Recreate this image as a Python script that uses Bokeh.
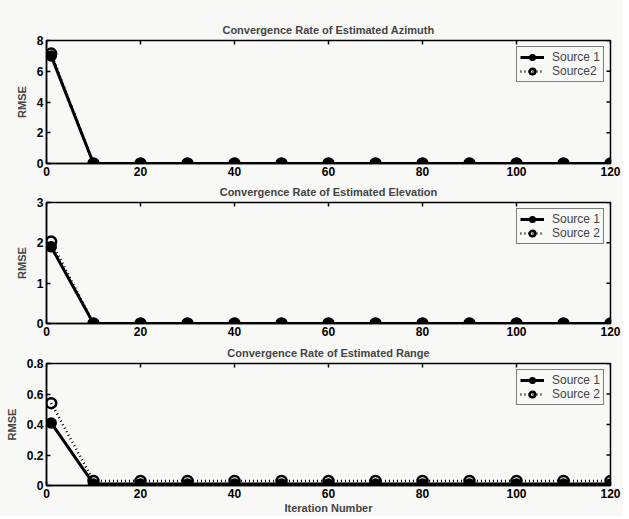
import math
from bokeh.plotting import figure
from bokeh.layouts import column
from bokeh.models import Legend, LegendItem, Range1d, FixedTicker
from bokeh.embed import file_html
from bokeh.resources import INLINE

iters = [1, 10, 20, 30, 40, 50, 60, 70, 80, 90, 100, 110, 120]
az_s1 = [7.0, 0, 0, 0, 0, 0, 0, 0, 0, 0, 0, 0, 0]
az_s2 = [7.15, 0, 0, 0, 0, 0, 0, 0, 0, 0, 0, 0, 0]
el_s1 = [1.9, 0, 0, 0, 0, 0, 0, 0, 0, 0, 0, 0, 0]
el_s2 = [2.03, 0, 0, 0, 0, 0, 0, 0, 0, 0, 0, 0, 0]
rg_s1 = [0.41, 0.01, 0.01, 0.01, 0.01, 0.01, 0.01, 0.01, 0.01, 0.01, 0.01, 0.01, 0.01]
rg_s2 = [0.54, 0.03, 0.03, 0.03, 0.03, 0.03, 0.03, 0.03, 0.03, 0.03, 0.03, 0.03, 0.03]

x_ticks = [0, 20, 40, 60, 80, 100, 120]
az_ticks = [0, 2, 4, 6, 8]
el_ticks = [0, 1, 2, 3]
rg_ticks = [0, 0.2, 0.4, 0.6, 0.8]

titles = ["Convergence Rate of Estimated Azimuth",
          "Convergence Rate of Estimated Elevation",
          "Convergence Rate of Estimated Range"]
s2_labels = ["Source2", "Source 2", "Source 2"]

FONT = "Liberation Sans"
BG = "#f8f8f6"


def make_panel(title, s1, s2, ymax, yticks, s2_label, frame_h, top, bottom, xlabel=None):
    p = figure(frame_width=564, frame_height=frame_h, output_backend="svg",
               toolbar_location=None, x_range=Range1d(0, 120), y_range=Range1d(0, ymax),
               min_border_left=46, min_border_right=13, min_border_top=top,
               min_border_bottom=bottom, background_fill_color=BG, border_fill_color=BG,
               outline_line_color="black", outline_line_width=1.5)
    p.title.text = title
    p.title.align = "center"
    p.title.text_font = FONT
    p.title.text_font_size = "11px"
    p.title.text_font_style = "bold"
    p.title.standoff = 9
    p.xgrid.visible = False
    p.ygrid.visible = False

    for ax in p.xaxis:
        ax.ticker = FixedTicker(ticks=x_ticks)
    for ax in p.yaxis:
        ax.ticker = FixedTicker(ticks=yticks)
        ax.axis_label = "RMSE"
    for ax in list(p.xaxis) + list(p.yaxis):
        ax.major_tick_in = 4
        ax.major_tick_out = 0
        ax.minor_tick_line_color = None
        ax.axis_line_color = "black"
        ax.axis_line_width = 1.5
        ax.major_tick_line_width = 1.5
        ax.major_label_text_font = FONT
        ax.major_label_text_font_size = "12px"
        ax.major_label_text_font_style = "bold"
        ax.major_label_text_color = "black"
        ax.major_label_standoff = 3
        ax.axis_label_text_font = FONT
        ax.axis_label_text_font_size = "11px"
        ax.axis_label_text_font_style = "bold"
        ax.axis_label_standoff = 6
    if xlabel:
        p.xaxis.axis_label = xlabel
        p.xaxis.axis_label_standoff = 1

    # box ticks on the top and right edges (clipped to the frame, so only the inner half shows)
    p.scatter(x_ticks, [ymax] * len(x_ticks), marker="dash", angle=math.pi / 2, size=8,
              line_color="black", line_width=1.5)
    p.scatter([120] * len(yticks), yticks, marker="dash", size=8,
              line_color="black", line_width=1.5)

    l1 = p.line(iters, s1, line_color="black", line_width=3)
    c1 = p.scatter(iters, s1, marker="circle", size=10, fill_color="black",
                   line_color="black", line_width=1.5)
    l2 = p.line(iters, s2, line_color="black", line_width=2.5, line_dash="1 3")
    c2 = p.scatter(iters, s2, marker="circle", size=10, fill_color=None,
                   line_color="black", line_width=2.5)

    legend = Legend(items=[LegendItem(label="Source 1", renderers=[l1, c1]),
                           LegendItem(label=s2_label, renderers=[l2, c2])],
                    location="top_right", border_line_color="black", border_line_width=1.5,
                    background_fill_color=BG, background_fill_alpha=1.0,
                    label_text_font=FONT, label_text_font_size="12px",
                    glyph_width=24, glyph_height=14,
                    label_height=14, spacing=0, padding=3, margin=6, label_standoff=8)
    p.add_layout(legend)
    return p


p1 = make_panel(titles[0], az_s1, az_s2, 8, az_ticks, s2_labels[0], 123, 40, 15)
p2 = make_panel(titles[1], el_s1, el_s2, 3, el_ticks, s2_labels[1], 121, 24, 16)
p3 = make_panel(titles[2], rg_s1, rg_s2, 0.8, rg_ticks, s2_labels[2], 122, 24, 30,
                xlabel="Iteration Number")

layout = column(p1, p2, p3, spacing=0, styles={"background-color": BG})
open("out.html", "w").write(file_html(layout, INLINE))
